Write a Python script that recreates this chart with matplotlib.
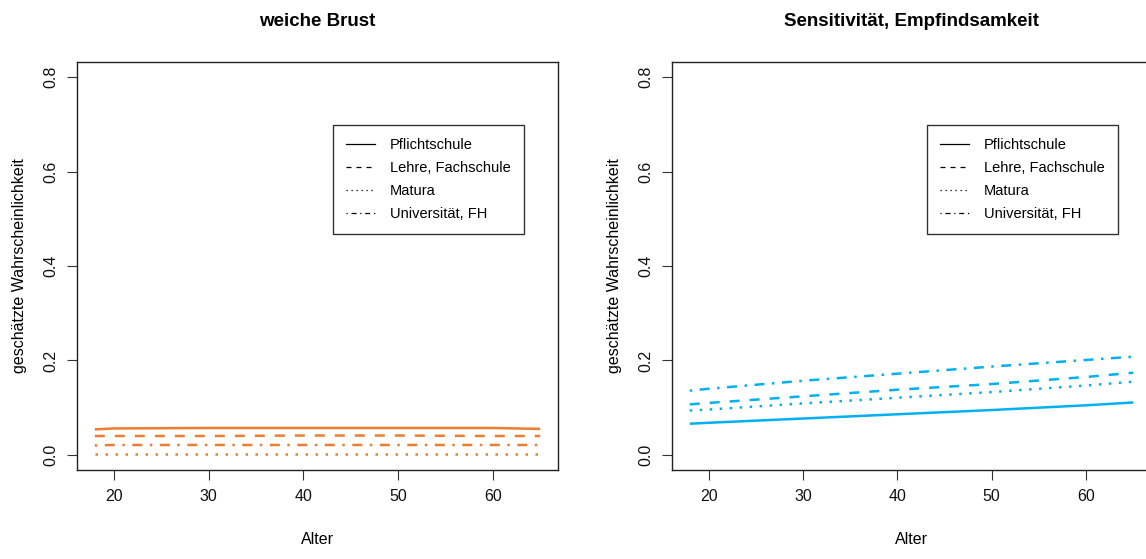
import numpy as np
import matplotlib
matplotlib.use('Agg')
import matplotlib.pyplot as plt
from matplotlib.lines import Line2D

plt.rcParams['font.family'] = ['Liberation Sans', 'DejaVu Sans']

# Altersstützstellen und geschätzte Wahrscheinlichkeiten
alter = [18, 20, 30, 40, 50, 60, 65]
gruppen = ['Pflichtschule', 'Lehre, Fachschule', 'Matura', 'Universität, FH']

brust_pflicht = [0.054, 0.056, 0.057, 0.057, 0.057, 0.057, 0.055]
brust_lehre = [0.040, 0.040, 0.040, 0.041, 0.041, 0.040, 0.040]
brust_matura = [0.002, 0.002, 0.002, 0.002, 0.002, 0.002, 0.002]
brust_uni = [0.020, 0.021, 0.021, 0.021, 0.021, 0.021, 0.021]

sens_pflicht = [0.066, 0.068, 0.077, 0.086, 0.095, 0.105, 0.111]
sens_lehre = [0.107, 0.110, 0.124, 0.138, 0.150, 0.165, 0.174]
sens_matura = [0.094, 0.096, 0.109, 0.121, 0.133, 0.147, 0.155]
sens_uni = [0.136, 0.140, 0.157, 0.172, 0.187, 0.201, 0.208]

ORANGE = '#ED7D31'
BLUE = '#00B0F0'

# R-artige Linientypen: solid, dashed, dotted, dotdash
stile = ['-', (0, (4, 4)), (0, (1, 3)), (0, (1, 3, 4, 3))]

fig = plt.figure(figsize=(11.46, 5.59), dpi=100)
ax1 = fig.add_axes([77 / 1146, 89 / 559, 481 / 1146, 408 / 559])
ax2 = fig.add_axes([672 / 1146, 89 / 559, 479 / 1146, 408 / 559])


def panel(ax, titel, reihen, farbe):
    for werte, ls in zip(reihen, stile):
        ax.plot(alter, werte, color=farbe, linestyle=ls, linewidth=1.8,
                dash_capstyle='butt', solid_capstyle='butt')
    ax.set_xlim(16.12, 66.88)
    ax.set_ylim(-0.032, 0.832)
    ax.set_xticks([20, 30, 40, 50, 60])
    ax.set_yticks([0.0, 0.2, 0.4, 0.6, 0.8])
    ax.set_yticklabels(['0.0', '0.2', '0.4', '0.6', '0.8'], rotation=90, va='center')
    ax.tick_params(direction='out', length=7.5, width=0.8, labelsize=11.5,
                   pad=6, colors='#333333', labelcolor='#111111')
    for s in ax.spines.values():
        s.set_linewidth(1.0)
        s.set_color('#222222')
    ax.set_title(titel, fontsize=13.5, fontweight='bold', pad=26)
    ax.set_xlabel('Alter', fontsize=11.5, labelpad=20)
    ax.set_ylabel('geschätzte Wahrscheinlichkeit', fontsize=11.5, labelpad=12)
    handles = [Line2D([], [], color='black', linestyle=ls, linewidth=0.9) for ls in stile]
    leg = ax.legend(handles, gruppen, loc='upper left', bbox_to_anchor=(0.532, 0.846),
                    borderaxespad=0, frameon=True, fancybox=False, fontsize=10.5,
                    handlelength=2.0, handletextpad=1.0, labelspacing=0.62,
                    borderpad=0.9)
    leg.get_frame().set_edgecolor('black')
    leg.get_frame().set_linewidth(1.0)


panel(ax1, 'weiche Brust', [brust_pflicht, brust_lehre, brust_matura, brust_uni], ORANGE)
panel(ax2, 'Sensitivität, Empfindsamkeit', [sens_pflicht, sens_lehre, sens_matura, sens_uni], BLUE)

fig.savefig('out.png', dpi=100)
